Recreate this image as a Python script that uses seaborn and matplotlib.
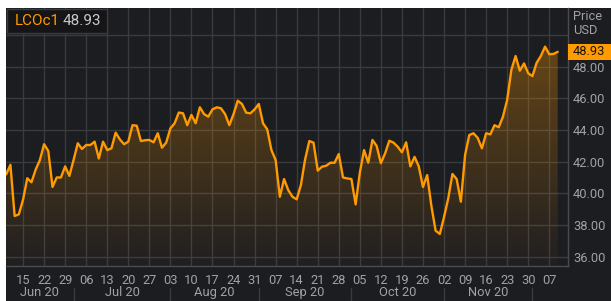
import numpy as np
import pandas as pd
import matplotlib
matplotlib.use("Agg")
import matplotlib.pyplot as plt
import matplotlib.transforms as mtransforms
from matplotlib.patches import Rectangle, PathPatch
import seaborn as sns

# Brent (LCOc1) daily closes, 9 Jun 2020 - 9 Dec 2020
prices = [
    41.2, 41.8, 38.57, 38.67,
    39.6, 40.95, 40.7, 41.5, 42.1,
    43.1, 42.67, 40.4, 41.0, 41.0,
    41.7, 41.1, 42.1, 43.16, 42.8,
    43.05, 43.05, 43.26, 42.2, 43.26,
    42.73, 42.84, 43.83, 43.4, 43.1,
    43.26, 44.3, 44.27, 43.3, 43.35,
    43.37, 43.22, 43.79, 42.88, 43.2,
    44.1, 44.42, 45.1, 45.05, 44.3,
    44.95, 44.42, 45.43, 45.0, 44.84,
    45.3, 45.43, 45.37, 45.0, 44.3,
    45.0, 45.85, 45.64, 45.09, 45.05,
    45.3, 45.64, 44.42, 44.04, 42.73,
    42.1, 39.78, 40.9, 40.2, 39.78,
    39.62, 40.52, 42.14, 43.3, 43.2,
    41.43, 41.68, 41.74, 41.93, 41.93,
    42.48, 41.0, 40.94, 40.9, 39.3,
    41.3, 42.73, 41.93, 43.37, 42.99,
    41.9, 42.52, 43.32, 43.2, 42.94,
    42.59, 43.22, 41.7, 42.3, 41.7,
    40.4, 41.15, 39.2, 37.64, 37.43,
    38.5, 39.68, 41.22, 40.9, 39.47,
    42.42, 43.68, 43.79, 43.5, 42.84,
    43.79, 43.72, 44.3, 44.17, 44.84,
    45.9, 47.8, 48.67, 47.74, 48.2,
    47.58, 47.4, 48.24, 48.67, 49.26,
    48.78, 48.8, 48.93,
]
dates = pd.bdate_range("2020-06-09", "2020-12-09")
ric = "LCOc1"
last_price = "48.93"
price_ticks = [36, 38, 40, 42, 44, 46, 48, 50]

bg = "#1c1d21"
gridc = "#3a3b3f"
orange = "#ff9a00"
textc = "#a2a2a2"

sns.set_style("dark")
plt.rcParams["font.family"] = ["Roboto", "DejaVu Sans"]

df = pd.DataFrame({"i": np.arange(len(prices)), "price": prices, "date": dates})

fig = plt.figure(figsize=(6.11, 3.01), dpi=100, facecolor="white")
fig.add_artist(Rectangle((6 / 611, 0), 1 - 6 / 611, 293 / 301, transform=fig.transFigure,
                         facecolor=bg, edgecolor="none", zorder=0))
ax = fig.add_axes([6 / 611, 35 / 301, 562 / 611, 258 / 301])
ax.set_facecolor(bg)

xlim = (-0.05, 133.45)
ylim = (35.41, 51.70)

# gradient fill under the line
poly = ax.fill_between(df["i"], df["price"], ylim[0], facecolor="none", edgecolor="none")
clip = PathPatch(poly.get_paths()[0], facecolor="none", edgecolor="none")
ax.add_patch(clip)
ys = np.linspace(ylim[0], ylim[1], 256)
alpha = np.clip(0.02 + 0.30 * (ys - ylim[0]) / (49.3 - ylim[0]), 0, 0.34)
grad = np.zeros((256, 1, 4))
grad[:, 0, :3] = matplotlib.colors.to_rgb(orange)
grad[:, 0, 3] = alpha
im = ax.imshow(grad, extent=[xlim[0], xlim[1], ylim[0], ylim[1]], origin="lower",
               aspect="auto", zorder=1)
im.set_clip_path(clip)

sns.lineplot(data=df, x="i", y="price", ax=ax, color=orange, lw=1.7, zorder=3)

ax.set_xlim(*xlim)
ax.set_ylim(*ylim)
ax.set_xlabel("")
ax.set_ylabel("")

# weekly ticks on Mondays
mondays = df[df["date"].dt.weekday == 0]
ax.set_xticks(mondays["i"])
ax.set_xticklabels(mondays["date"].dt.strftime("%d"))
ax.set_yticks(price_ticks)
ax.set_yticklabels(["%.2f" % p if p < 50 else "" for p in price_ticks])
ax.yaxis.tick_right()
ax.grid(True, color=gridc, lw=1)
ax.tick_params(axis="x", length=3, width=1, color=gridc, pad=3, labelsize=9.3, labelcolor=textc)
ax.tick_params(axis="y", length=0, pad=3.6, labelsize=9.3, labelcolor=textc)
for s in ["left", "top"]:
    ax.spines[s].set_visible(False)
for s in ["right", "bottom"]:
    ax.spines[s].set_color("#4a4b4f")
    ax.spines[s].set_linewidth(1)

# month row
trans = mtransforms.blended_transform_factory(ax.transData, ax.transAxes)
month_start = df.groupby(df["date"].dt.month)["i"].min()
bounds = list(month_start.values[1:])
for b in bounds:
    ax.plot([b, b], [-22 / 258, -36 / 258], transform=trans, clip_on=False, color=gridc, lw=1)
edges = [0] + bounds
for k, m in enumerate(month_start.index[:-1]):
    mid = (max(edges[k], xlim[0]) + edges[k + 1]) / 2
    label = df.loc[edges[k], "date"].strftime("%b %y")
    ax.text(mid, -26.7 / 258, label, transform=trans, ha="center", va="center",
            fontsize=9.3, color=textc)

# right side label and price tag
ax.text(1 + 5 / 562, 1 - 9 / 258, "Price", transform=ax.transAxes, ha="left", va="center",
        fontsize=9.3, color=textc)
ax.text(1 + 5 / 562, 1 - 22 / 258, "USD", transform=ax.transAxes, ha="left", va="center",
        fontsize=9.3, color=textc)
tag_trans = mtransforms.blended_transform_factory(ax.transAxes, ax.transData)
ax.add_patch(Rectangle((1.0, prices[-1] - 0.5), 44 / 562, 1.0, transform=tag_trans,
                       clip_on=False, facecolor=orange, edgecolor="none", zorder=5))
ax.text(1 + 5 / 562, prices[-1], last_price, transform=tag_trans, ha="left", va="center",
        fontsize=9.3, color="#141414", zorder=6)

# top-left instrument box
ax.add_patch(Rectangle((1 / 562, 1 - 25 / 258), 100 / 562, 24 / 258, transform=ax.transAxes,
                       facecolor="#151517", edgecolor="#3a3b3e", lw=1, zorder=6))
ax.text(9 / 562, 1 - 13 / 258, ric, transform=ax.transAxes, ha="left", va="center",
        fontsize=11, color=orange, zorder=7)
ax.text(57 / 562, 1 - 13 / 258, last_price, transform=ax.transAxes, ha="left", va="center",
        fontsize=11, color="#c8c8c8", zorder=7)

fig.savefig("out.png", dpi=100, facecolor=fig.get_facecolor())
